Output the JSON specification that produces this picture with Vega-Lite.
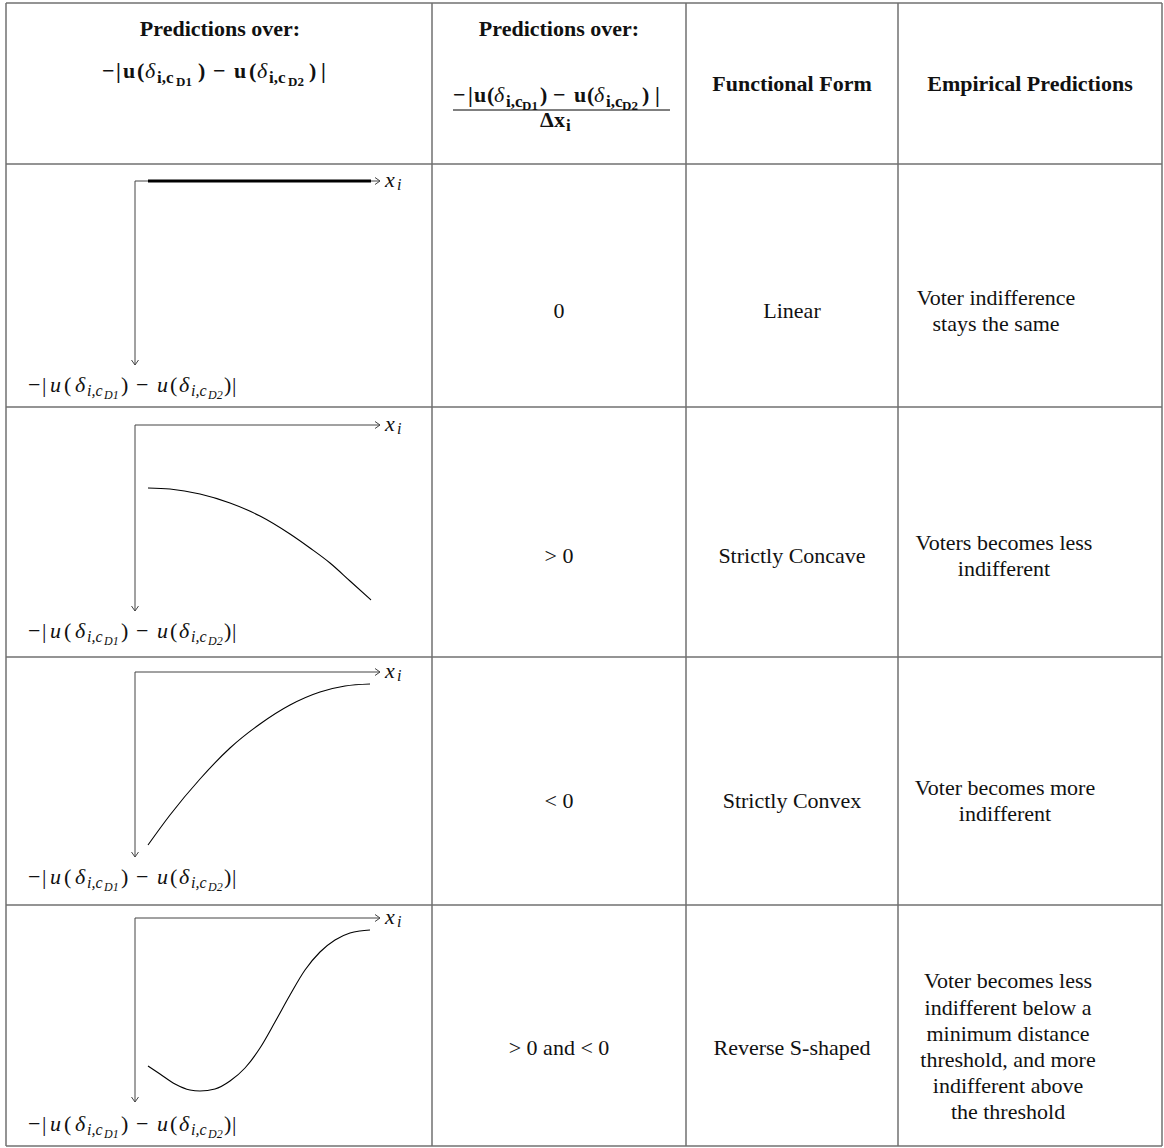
{
"$schema": "https://vega.github.io/schema/vega-lite/v6.json",
"width": 1164, "height": 1148,
"autosize": {"type": "fit", "contains": "padding"},
"padding": 0,
"background": "white",
"config": {"view": {"stroke": null}},
"datasets": {
"grid": [
{"x":6,"y":3,"x2":1162,"y2":3},{"x":6,"y":164,"x2":1162,"y2":164},{"x":6,"y":407,"x2":1162,"y2":407},{"x":6,"y":657,"x2":1162,"y2":657},{"x":6,"y":905,"x2":1162,"y2":905},{"x":6,"y":1146,"x2":1162,"y2":1146},
{"x":6,"y":3,"x2":6,"y2":1146},{"x":432,"y":3,"x2":432,"y2":1146},{"x":686,"y":3,"x2":686,"y2":1146},{"x":898,"y":3,"x2":898,"y2":1146},{"x":1162,"y":3,"x2":1162,"y2":1146}
],
"axes": [
{"x":135,"y":181,"x2":380,"y2":181},{"x":135,"y":181,"x2":135,"y2":365},{"x":375,"y":177.5,"x2":380,"y2":181},{"x":375,"y":184.5,"x2":380,"y2":181},{"x":131.5,"y":360,"x2":135,"y2":365},{"x":138.5,"y":360,"x2":135,"y2":365},
{"x":135,"y":425,"x2":380,"y2":425},{"x":135,"y":425,"x2":135,"y2":611},{"x":375,"y":421.5,"x2":380,"y2":425},{"x":375,"y":428.5,"x2":380,"y2":425},{"x":131.5,"y":606,"x2":135,"y2":611},{"x":138.5,"y":606,"x2":135,"y2":611},
{"x":135,"y":672,"x2":380,"y2":672},{"x":135,"y":672,"x2":135,"y2":857},{"x":375,"y":668.5,"x2":380,"y2":672},{"x":375,"y":675.5,"x2":380,"y2":672},{"x":131.5,"y":852,"x2":135,"y2":857},{"x":138.5,"y":852,"x2":135,"y2":857},
{"x":135,"y":918,"x2":380,"y2":918},{"x":135,"y":918,"x2":135,"y2":1102},{"x":375,"y":914.5,"x2":380,"y2":918},{"x":375,"y":921.5,"x2":380,"y2":918},{"x":131.5,"y":1097,"x2":135,"y2":1102},{"x":138.5,"y":1097,"x2":135,"y2":1102}
],
"thick": [{"x":148,"y":181,"x2":371,"y2":181}],
"fraction": [{"x":453,"y":110,"x2":670,"y2":110}],
"curves": [
{"id":"concave","ord":1,"x":148,"y":488},{"id":"concave","ord":2,"x":170,"y":489},{"id":"concave","ord":3,"x":200,"y":494},{"id":"concave","ord":4,"x":230,"y":503},{"id":"concave","ord":5,"x":260,"y":516},{"id":"concave","ord":6,"x":290,"y":534},{"id":"concave","ord":7,"x":310,"y":548},{"id":"concave","ord":8,"x":330,"y":563},{"id":"concave","ord":9,"x":350,"y":581},{"id":"concave","ord":10,"x":371,"y":600},
{"id":"convex","ord":1,"x":148,"y":845},{"id":"convex","ord":2,"x":170,"y":815},{"id":"convex","ord":3,"x":200,"y":779},{"id":"convex","ord":4,"x":230,"y":748},{"id":"convex","ord":5,"x":260,"y":724},{"id":"convex","ord":6,"x":290,"y":705},{"id":"convex","ord":7,"x":320,"y":692},{"id":"convex","ord":8,"x":345,"y":686},{"id":"convex","ord":9,"x":370,"y":684},
{"id":"s","ord":1,"x":148,"y":1066},{"id":"s","ord":2,"x":160,"y":1074},{"id":"s","ord":3,"x":175,"y":1084},{"id":"s","ord":4,"x":190,"y":1090},{"id":"s","ord":5,"x":200,"y":1091},{"id":"s","ord":6,"x":215,"y":1089},{"id":"s","ord":7,"x":230,"y":1081},{"id":"s","ord":8,"x":245,"y":1068},{"id":"s","ord":9,"x":260,"y":1048},{"id":"s","ord":10,"x":275,"y":1022},{"id":"s","ord":11,"x":290,"y":995},{"id":"s","ord":12,"x":305,"y":970},{"id":"s","ord":13,"x":320,"y":952},{"id":"s","ord":14,"x":335,"y":940},{"id":"s","ord":15,"x":350,"y":933},{"id":"s","ord":16,"x":360,"y":931},{"id":"s","ord":17,"x":370,"y":930}
],
"headText": [
{"t":"Predictions over:","x":220,"y":36},{"t":"Predictions over:","x":559,"y":36},{"t":"Functional Form","x":792,"y":91},{"t":"Empirical Predictions","x":1030,"y":91}
],
"cellText": [
{"t":"0","x":559,"y":318},{"t":"Linear","x":792,"y":318},{"t":"Voter indifference","x":996,"y":305},{"t":"stays the same","x":996,"y":331},
{"t":"> 0","x":559,"y":563},{"t":"Strictly Concave","x":792,"y":563},{"t":"Voters becomes less","x":1004,"y":550},{"t":"indifferent","x":1004,"y":576},
{"t":"< 0","x":559,"y":808},{"t":"Strictly Convex","x":792,"y":808},{"t":"Voter becomes more","x":1005,"y":795},{"t":"indifferent","x":1005,"y":821},
{"t":"> 0 and < 0","x":559,"y":1055},{"t":"Reverse S-shaped","x":792,"y":1055},
{"t":"Voter becomes less","x":1008,"y":988},{"t":"indifferent below a","x":1008,"y":1015},{"t":"minimum distance","x":1008,"y":1041},{"t":"threshold, and more","x":1008,"y":1067},{"t":"indifferent above","x":1008,"y":1093},{"t":"the threshold","x":1008,"y":1119}
],
"mathReg": [
{"t":"−","x":28,"y":392},{"t":"|","x":42,"y":392},{"t":"(","x":64,"y":392},{"t":")","x":121,"y":392},{"t":"−","x":136,"y":392},{"t":"(","x":170,"y":392},{"t":")","x":224,"y":392},{"t":"|","x":232,"y":392},
{"t":"−","x":28,"y":638},{"t":"|","x":42,"y":638},{"t":"(","x":64,"y":638},{"t":")","x":121,"y":638},{"t":"−","x":136,"y":638},{"t":"(","x":170,"y":638},{"t":")","x":224,"y":638},{"t":"|","x":232,"y":638},
{"t":"−","x":28,"y":884},{"t":"|","x":42,"y":884},{"t":"(","x":64,"y":884},{"t":")","x":121,"y":884},{"t":"−","x":136,"y":884},{"t":"(","x":170,"y":884},{"t":")","x":224,"y":884},{"t":"|","x":232,"y":884},
{"t":"−","x":28,"y":1131},{"t":"|","x":42,"y":1131},{"t":"(","x":64,"y":1131},{"t":")","x":121,"y":1131},{"t":"−","x":136,"y":1131},{"t":"(","x":170,"y":1131},{"t":")","x":224,"y":1131},{"t":"|","x":232,"y":1131}
],
"mathIt": [
{"t":"u","x":50,"y":392},{"t":"δ","x":75,"y":392},{"t":"u","x":157,"y":392},{"t":"δ","x":179,"y":392},
{"t":"u","x":50,"y":638},{"t":"δ","x":75,"y":638},{"t":"u","x":157,"y":638},{"t":"δ","x":179,"y":638},
{"t":"u","x":50,"y":884},{"t":"δ","x":75,"y":884},{"t":"u","x":157,"y":884},{"t":"δ","x":179,"y":884},
{"t":"u","x":50,"y":1131},{"t":"δ","x":75,"y":1131},{"t":"u","x":157,"y":1131},{"t":"δ","x":179,"y":1131},
{"t":"x","x":385,"y":187},{"t":"x","x":385,"y":431},{"t":"x","x":385,"y":678},{"t":"x","x":385,"y":924},
{"t":"δ","x":145,"y":78},{"t":"δ","x":257,"y":78},{"t":"δ","x":494,"y":102},{"t":"δ","x":594,"y":102}
],
"mathSubIt": [
{"t":"i,c","x":87,"y":396},{"t":"i,c","x":191,"y":396},
{"t":"i,c","x":87,"y":642},{"t":"i,c","x":191,"y":642},
{"t":"i,c","x":87,"y":888},{"t":"i,c","x":191,"y":888},
{"t":"i,c","x":87,"y":1135},{"t":"i,c","x":191,"y":1135},
{"t":"i","x":397,"y":190},{"t":"i","x":397,"y":434},{"t":"i","x":397,"y":681},{"t":"i","x":397,"y":927}
],
"mathSubSubIt": [
{"t":"D1","x":104,"y":399},{"t":"D2","x":208,"y":399},
{"t":"D1","x":104,"y":645},{"t":"D2","x":208,"y":645},
{"t":"D1","x":104,"y":891},{"t":"D2","x":208,"y":891},
{"t":"D1","x":104,"y":1138},{"t":"D2","x":208,"y":1138}
],
"mathBold": [
{"t":"−","x":102,"y":78},{"t":"|","x":116,"y":78},{"t":"u","x":123,"y":78},{"t":"(","x":137,"y":78},{"t":")","x":198,"y":78},{"t":"−","x":213,"y":78},{"t":"u","x":234,"y":78},{"t":"(","x":249,"y":78},{"t":")","x":309,"y":78},{"t":"|","x":321,"y":78},
{"t":"−","x":453,"y":102},{"t":"|","x":468,"y":102},{"t":"u","x":474,"y":102},{"t":"(","x":487,"y":102},{"t":")","x":540,"y":102},{"t":"−","x":553,"y":102},{"t":"u","x":574,"y":102},{"t":"(","x":587,"y":102},{"t":")","x":642,"y":102},{"t":"|","x":655,"y":102},
{"t":"Δ","x":540,"y":127},{"t":"x","x":554,"y":127}
],
"mathSubBold": [
{"t":"i,c","x":157,"y":83},{"t":"i,c","x":269,"y":83},{"t":"i,c","x":506,"y":107},{"t":"i,c","x":606,"y":107},{"t":"i","x":566,"y":131}
],
"mathSubSubBold": [
{"t":"D1","x":176,"y":86},{"t":"D2","x":288,"y":86},{"t":"D1","x":522,"y":110},{"t":"D2","x":622,"y":110}
]
},
"encoding": {
"x": {"field":"x","type":"quantitative","scale":{"domain":[0,1164],"nice":false,"zero":false},"axis":null},
"y": {"field":"y","type":"quantitative","scale":{"domain":[0,1148],"nice":false,"zero":false,"reverse":true},"axis":null}
},
"layer": [
{"data":{"name":"grid"},"mark":{"type":"rule","stroke":"#707070","strokeWidth":1.5},"encoding":{"x2":{"field":"x2"},"y2":{"field":"y2"}}},
{"data":{"name":"axes"},"mark":{"type":"rule","stroke":"#444444","strokeWidth":1},"encoding":{"x2":{"field":"x2"},"y2":{"field":"y2"}}},
{"data":{"name":"thick"},"mark":{"type":"rule","stroke":"#000000","strokeWidth":3.2},"encoding":{"x2":{"field":"x2"},"y2":{"field":"y2"}}},
{"data":{"name":"fraction"},"mark":{"type":"rule","stroke":"#000000","strokeWidth":1},"encoding":{"x2":{"field":"x2"},"y2":{"field":"y2"}}},
{"data":{"name":"curves"},"mark":{"type":"line","stroke":"#000000","strokeWidth":1.1,"interpolate":"monotone"},"encoding":{"detail":{"field":"id"},"order":{"field":"ord","type":"quantitative"}}},
{"data":{"name":"headText"},"mark":{"type":"text","font":"Liberation Serif","fontSize":22,"fontWeight":"bold","align":"center","baseline":"alphabetic","color":"#111111"},"encoding":{"text":{"field":"t"}}},
{"data":{"name":"cellText"},"mark":{"type":"text","font":"Liberation Serif","fontSize":22,"align":"center","baseline":"alphabetic","color":"#111111"},"encoding":{"text":{"field":"t"}}},
{"data":{"name":"mathReg"},"mark":{"type":"text","font":"Liberation Serif","fontSize":22,"align":"left","baseline":"alphabetic","color":"#111111"},"encoding":{"text":{"field":"t"}}},
{"data":{"name":"mathIt"},"mark":{"type":"text","font":"Liberation Serif","fontSize":22,"fontStyle":"italic","align":"left","baseline":"alphabetic","color":"#111111"},"encoding":{"text":{"field":"t"}}},
{"data":{"name":"mathSubIt"},"mark":{"type":"text","font":"Liberation Serif","fontSize":16,"fontStyle":"italic","align":"left","baseline":"alphabetic","color":"#111111"},"encoding":{"text":{"field":"t"}}},
{"data":{"name":"mathSubSubIt"},"mark":{"type":"text","font":"Liberation Serif","fontSize":12,"fontStyle":"italic","align":"left","baseline":"alphabetic","color":"#111111"},"encoding":{"text":{"field":"t"}}},
{"data":{"name":"mathBold"},"mark":{"type":"text","font":"Liberation Serif","fontSize":22,"fontWeight":"bold","align":"left","baseline":"alphabetic","color":"#111111"},"encoding":{"text":{"field":"t"}}},
{"data":{"name":"mathSubBold"},"mark":{"type":"text","font":"Liberation Serif","fontSize":17,"fontWeight":"bold","align":"left","baseline":"alphabetic","color":"#111111"},"encoding":{"text":{"field":"t"}}},
{"data":{"name":"mathSubSubBold"},"mark":{"type":"text","font":"Liberation Serif","fontSize":13,"fontWeight":"bold","align":"left","baseline":"alphabetic","color":"#111111"},"encoding":{"text":{"field":"t"}}}
]
}
